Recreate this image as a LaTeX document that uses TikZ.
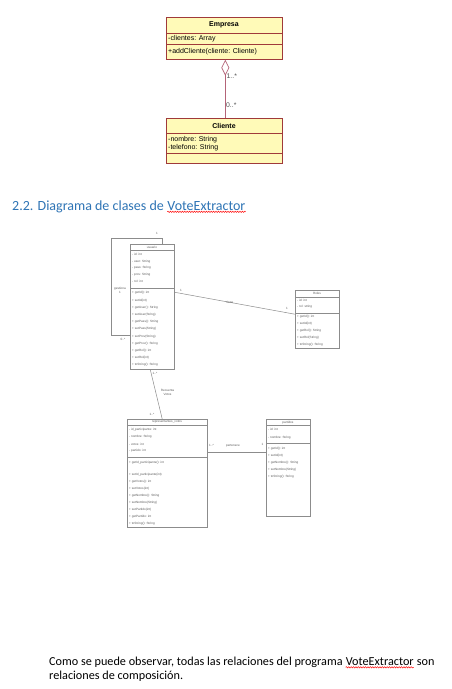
\documentclass[tikz,border=0pt]{standalone}
\usepackage{fontspec}
\setmainfont{Carlito}
\newfontfamily\umlfont{Liberation Sans}
\usetikzlibrary{arrows.meta,decorations.pathmorphing,calc}
\definecolor{ubfill}{HTML}{FFFAB8}
\definecolor{ubdraw}{HTML}{A03A3A}
\definecolor{ublink}{HTML}{B46478}
\definecolor{headblue}{HTML}{2E74B5}
\definecolor{glinec}{HTML}{8C8C8C}
\definecolor{gtextc}{HTML}{5A5A5A}
\definecolor{lblc}{HTML}{505050}
\begin{document}
\begin{tikzpicture}[x=1pt,y=-1pt,
  ybox/.style={draw=ubdraw, fill=ubfill, line width=0.7pt, inner sep=0, anchor=north west},
  ysep/.style={draw=ubdraw, line width=0.7pt},
  ytxt/.style={font=\umlfont\fontsize{7}{8}\selectfont, inner sep=0, anchor=west},
  ytitle/.style={font=\umlfont\bfseries\fontsize{7}{8}\selectfont, inner sep=0},
  ylbl/.style={font=\umlfont\fontsize{6.8}{8}\selectfont, inner sep=0, anchor=west, text=lblc},
  gbox/.style={draw=glinec, line width=0.45pt, inner sep=0, anchor=north west},
  gsep/.style={draw=glinec, line width=0.45pt},
  gt/.style={font=\umlfont\fontsize{3.1}{3.5}\selectfont, inner sep=0, anchor=west, text=gtextc},
  gtc/.style={font=\umlfont\fontsize{3.1}{3.5}\selectfont, inner sep=0, text=gtextc},
  gline/.style={draw=glinec, line width=0.5pt},
  body/.style={font=\fontsize{12.2}{14}\selectfont, inner sep=0, anchor=base west},
  headst/.style={font=\fontsize{14}{16}\selectfont, text=headblue, inner sep=0, anchor=base west},
  wavy/.style={draw=red, line width=0.45pt, decorate, decoration={snake, amplitude=0.7pt, segment length=2.4pt}}
]
\useasboundingbox[fill=white] (0,0) rectangle (451,689);

% ---------- Empresa / Cliente ----------
\node[ybox, minimum width=116pt, minimum height=42pt] (empresa) at (166,17) {};
\draw[ysep] (166,33) -- (282,33);
\draw[ysep] (166,44) -- (282,44);
\node[ytitle] (empt) at (224,25.3) {Empresa};
\node[ytxt] (empa) at (168,38.8) {-clientes: Array};
\node[ytxt] (empm) at (168,51.8) {+addCliente(cliente: Cliente)};

\node[ybox, minimum width=116pt, minimum height=45pt] (cliente) at (166,117.7) {};
\draw[ysep] (166,133.3) -- (282,133.3);
\draw[ysep] (166,153.3) -- (282,153.3);
\node[ytitle] (clit) at (224,125.6) {Cliente};
\node[ytxt] (clia) at (168,139.5) {-nombre: String};
\node[ytxt] (clib) at (168,147.3) {-telefono: String};

\draw[draw=ublink, line width=0.7pt, -{Diamond[open, length=16pt, width=8pt, line width=0.7pt]}] ([xshift=1pt]cliente.north) -- ([xshift=1pt]empresa.south);
\node[ylbl] (m1) at (226.5,75.8) {1..*};
\node[ylbl] (m2) at (226,105.6) {0..*};

% ---------- Heading ----------
\node[headst] (h1) at (12,210) {2.2. Diagrama de clases de\ \null};
\node[headst] (h2) at (h1.base east) {VoteExtractor};
\draw[wavy] ([yshift=-1.8pt]h2.base west) -- ([yshift=-1.8pt]h2.base east);

% ---------- usuario ----------
\node[gbox, minimum width=44pt, minimum height=125.3pt] (usuario) at (130,243.7) {};
\draw[gsep] (130,250) -- (174,250);
\draw[gsep] (130,288) -- (174,288);
\node[gtc] (ut) at (152,247) {usuario};
\foreach \t [count=\i] in {- id: int, - user: String, - pass: String, - prov: String, - rol: int}
  \node[gt] (ua\i) at (132,{254.7+6.65*(\i-1)}) {\t};
\foreach \t [count=\i] in {+ getId(): int, + setId(int), + getUser(): String, + setUser(String), + getPass(): String, + setPass(String), + setProv(String), + getProv(): String, + getRol(): int, + setRol(int), + toString(): String}
  \node[gt] (um\i) at (132,{293+7.2*(\i-1)}) {\t};

% self association
\draw[gline] ([xshift=-12pt]usuario.north east) -- ++(0,-5.7) -| ++(-51,97) -- ++(19,0);
\node[gtc] (l1) at (157,233) {1};
\node[gtc] (l2) at (120,289) {gestiona};
\node[gtc] (l3) at (120,292.6) {1};
\node[gtc] (l4) at (123,339.3) {0..*};

% ---------- Roles ----------
\node[gbox, minimum width=44pt, minimum height=58pt] (roles) at (295,290) {};
\draw[gsep] (295,297) -- (339,297);
\draw[gsep] (295,313) -- (339,313);
\node[gtc] (rt) at (317,293.6) {Roles};
\node[gt] (ra1) at (297,300.5) {- id: int};
\node[gt] (ra2) at (297,307) {- rol: string};
\foreach \t [count=\i] in {+ getId(): int, + setId(int), + getRol(): String, + setRol(String), + toString(): String}
  \node[gt] (rm\i) at (297,{316.7+7*(\i-1)}) {\t};

\draw[gline] ([yshift=14.35pt]usuario.east) -- ([yshift=5pt]roles.west);
\node[gtc] (l5) at (181,290.6) {1};
\node[gtc] (l6) at (230,302.6) {tiene};
\node[gtc] (l7) at (287,308.6) {1};

% ---------- representantes_votos ----------
\node[gbox, minimum width=80pt, minimum height=108pt] (repre) at (127,419) {};
\draw[gsep] (127,425.5) -- (207,425.5);
\draw[gsep] (127,457) -- (207,457);
\node[gtc] (pt) at (167,422.3) {representantes\_votos};
\foreach \t [count=\i] in {- id\_participante: int, - nombre: String, - votos: int, - partido: int}
  \node[gt] (pa\i) at (129,{430+7*(\i-1)}) {\t};
\node[gt] (pm0) at (129,462.7) {+ getId\_participante(): int};
\foreach \t [count=\i] in {+ setId\_participante(int), + getVotos(): int, + setVotos(int), + getNombre(): String, + setNombre(String), + setPartido(int), + getPartido: int, + toString(): String}
  \node[gt] (pm\i) at (129,{474.3+7.1*(\i-1)}) {\t};

\draw[gline] ([xshift=-2pt]usuario.south) -- ([xshift=-5pt]repre.north);
\node[gtc] (l8) at (155,373.5) {1..*};
\node[gtc] (l9) at (167.5,390.8) {Recuenta};
\node[gtc] (l10) at (167.5,394.6) {Votos};
\node[gtc] (l11) at (152,414) {1..*};

% ---------- partidos ----------
\node[gbox, minimum width=44pt, minimum height=97pt] (partidos) at (266,419) {};
\draw[gsep] (266,425) -- (310,425);
\draw[gsep] (266,443.7) -- (310,443.7);
\node[gtc] (qt) at (288,422.2) {partidos};
\node[gt] (qa1) at (268,429.7) {- id: int};
\node[gt] (qa2) at (268,437.3) {- nombre: String};
\foreach \t [count=\i] in {+ getId(): int, + setId(int), + getNombre(): String, + setNombre(String), + toString(): String}
  \node[gt] (qm\i) at (268,{448.6+7*(\i-1)}) {\t};

\draw[gline] ([yshift=21pt]repre.east) -- ([yshift=15.5pt]partidos.west);
\node[gtc] (l12) at (211.5,445.4) {1..*};
\node[gtc] (l13) at (233,445.4) {pertenece};
\node[gtc] (l14) at (262.5,444.6) {1};

% ---------- closing text ----------
\node[body] (b1) at (49,665.5) {Como se puede observar, todas las relaciones del programa\ \null};
\node[body] (b2) at (b1.base east) {VoteExtractor};
\node[body] (b3) at (b2.base east) {\null\ son};
\draw[wavy] ([yshift=-1.8pt]b2.base west) -- ([yshift=-1.8pt]b2.base east);
\node[body] (b4) at (49,679.5) {relaciones de composición.};
\end{tikzpicture}
\end{document}
